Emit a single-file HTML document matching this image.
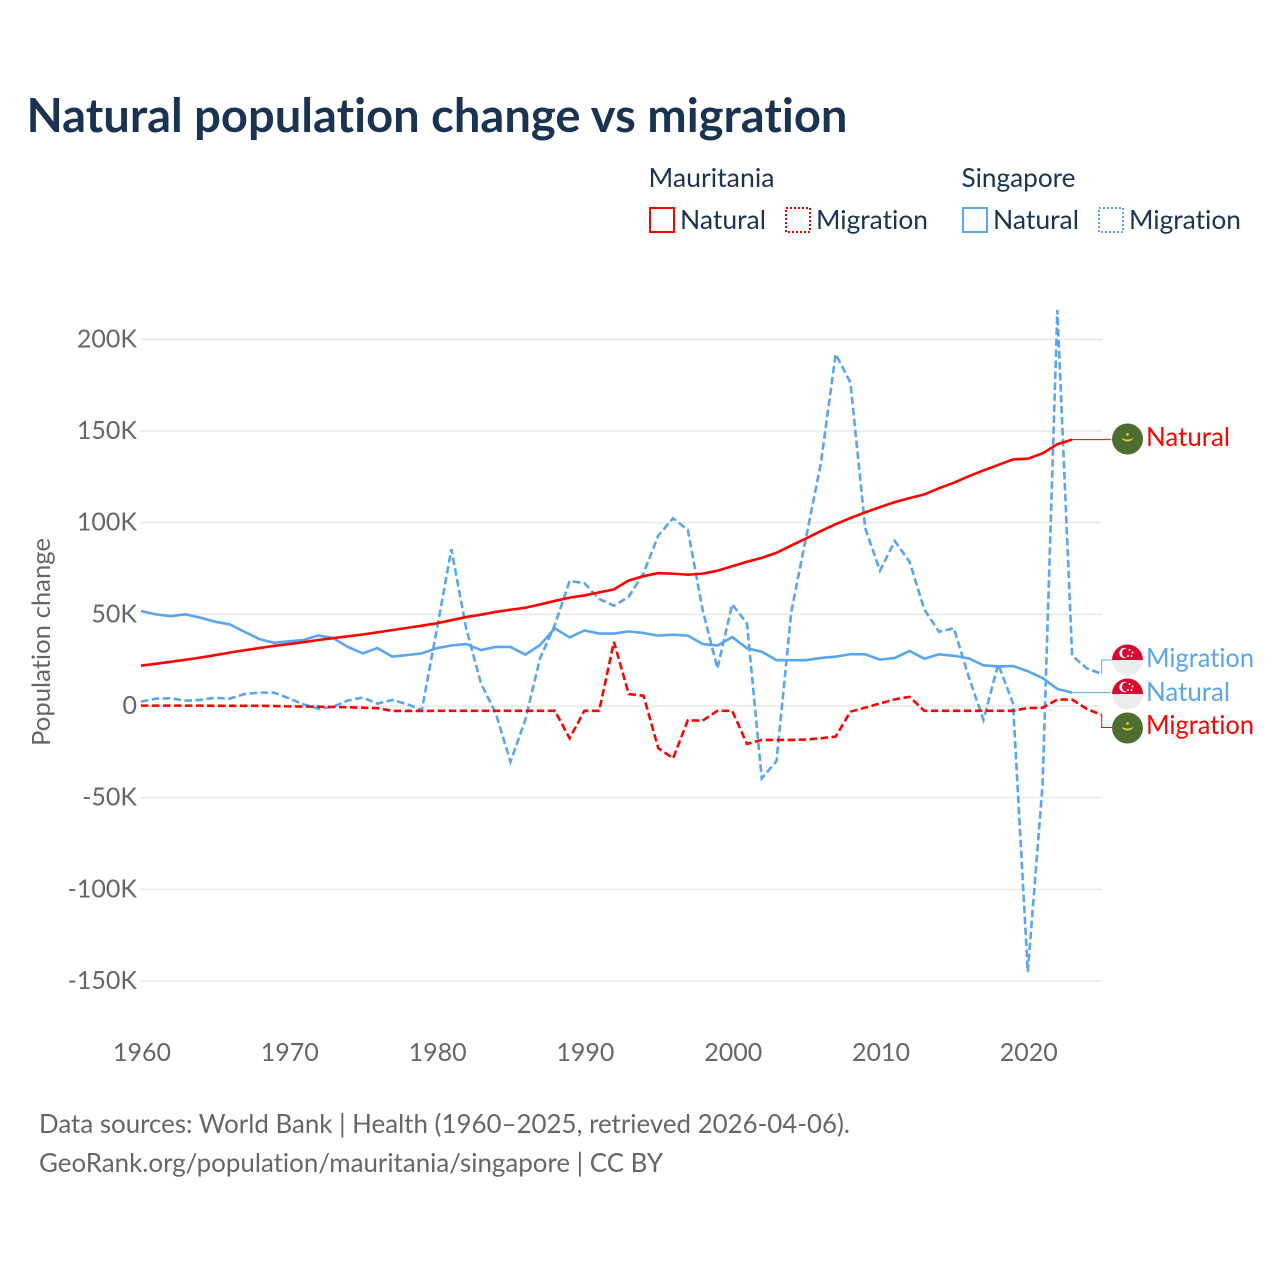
<!DOCTYPE html>
<html lang="en">
<head>
<meta charset="utf-8">
<title>Natural population change vs migration</title>
<style>
html,body{margin:0;padding:0;background:#fff;width:1280px;height:1280px;overflow:hidden}
svg{display:block}
text{font-family:"Lato","Carlito","Liberation Sans",sans-serif;font-variant-ligatures:none;font-feature-settings:"liga" 0,"clig" 0}
</style>
</head>
<body>
<svg id="chart" width="1280" height="1280" viewBox="0 0 1280 1280" xmlns="http://www.w3.org/2000/svg">
  <rect width="1280" height="1280" fill="#fff"/>
  <text x="26.5" y="132" font-size="47" font-weight="700" fill="#1a3353" textLength="821" lengthAdjust="spacingAndGlyphs">Natural population change vs migration</text>

  <g font-size="26" fill="#1a3353">
    <text x="648.5" y="187" textLength="126" lengthAdjust="spacingAndGlyphs">Mauritania</text>
    <text x="961.5" y="187" textLength="114" lengthAdjust="spacingAndGlyphs">Singapore</text>
    <g>
      <rect x="650" y="208" width="24" height="24" fill="none" stroke="#ff0000" stroke-width="2"/>
      <text x="680" y="229" textLength="86" lengthAdjust="spacingAndGlyphs">Natural</text>
    </g>
    <g>
      <rect x="786" y="208" width="24" height="24" fill="none" stroke="#e00000" stroke-width="2" stroke-dasharray="2 2"/>
      <text x="816" y="229" textLength="112" lengthAdjust="spacingAndGlyphs">Migration</text>
    </g>
    <g>
      <rect x="963" y="208" width="24" height="24" fill="none" stroke="#5aa5ef" stroke-width="2"/>
      <text x="993" y="229" textLength="86" lengthAdjust="spacingAndGlyphs">Natural</text>
    </g>
    <g>
      <rect x="1099" y="208" width="24" height="24" fill="none" stroke="#5aa5ef" stroke-width="2" stroke-dasharray="2 2"/>
      <text x="1129" y="229" textLength="112" lengthAdjust="spacingAndGlyphs">Migration</text>
    </g>
  </g>

  <g id="grid"></g>
  <g id="yticks"></g>
  <g id="xticks"></g>
  <text transform="translate(50,642) rotate(-90)" text-anchor="middle" font-size="25" fill="#666" textLength="208" lengthAdjust="spacingAndGlyphs">Population change</text>
  <g id="leaders"></g>
  <g id="series"></g>

  <g font-size="26">
    <g>
      <g transform="translate(1127.5,439)">
        <circle r="15.5" fill="#4e6e2f"/><path d="M-6 -1.5 A6.5 6.5 0 0 0 6 -1.5 A7.5 5 0 0 1 -6 -1.5Z" fill="#e8c83c"/><circle cy="-4.5" r="1.4" fill="#e8c83c"/>
      </g>
      <text x="1146" y="446" fill="#ff0000" textLength="84" lengthAdjust="spacingAndGlyphs">Natural</text>
    </g>
    <g>
      <g transform="translate(1127.5,660)">
        <circle r="15.5" fill="#ececec"/><path d="M-15.5 0 A15.5 15.5 0 0 1 15.5 0Z" fill="#d9082f"/><circle cx="-3" cy="-7" r="5.2" fill="#fff"/><circle cx="-1" cy="-7" r="4.6" fill="#d9082f"/><circle cx="2" cy="-10" r="1" fill="#fff"/><circle cx="5" cy="-7.5" r="1" fill="#fff"/><circle cx="4" cy="-4" r="1" fill="#fff"/><circle cx="0.5" cy="-4" r="1" fill="#fff"/>
      </g>
      <text x="1146" y="667" fill="#5aa5ef" textLength="108" lengthAdjust="spacingAndGlyphs">Migration</text>
    </g>
    <g>
      <g transform="translate(1127.5,694)">
        <circle r="15.5" fill="#ececec"/><path d="M-15.5 0 A15.5 15.5 0 0 1 15.5 0Z" fill="#d9082f"/><circle cx="-3" cy="-7" r="5.2" fill="#fff"/><circle cx="-1" cy="-7" r="4.6" fill="#d9082f"/><circle cx="2" cy="-10" r="1" fill="#fff"/><circle cx="5" cy="-7.5" r="1" fill="#fff"/><circle cx="4" cy="-4" r="1" fill="#fff"/><circle cx="0.5" cy="-4" r="1" fill="#fff"/>
      </g>
      <text x="1146" y="701" fill="#5aa5ef" textLength="84" lengthAdjust="spacingAndGlyphs">Natural</text>
    </g>
    <g>
      <g transform="translate(1127.5,728)">
        <circle r="15.5" fill="#4e6e2f"/><path d="M-6 -1.5 A6.5 6.5 0 0 0 6 -1.5 A7.5 5 0 0 1 -6 -1.5Z" fill="#e8c83c"/><circle cy="-4.5" r="1.4" fill="#e8c83c"/>
      </g>
      <text x="1146" y="734" fill="#ff0000" textLength="108" lengthAdjust="spacingAndGlyphs">Migration</text>
    </g>
  </g>

  <g font-size="26" fill="#666">
    <text x="39" y="1133" textLength="811" lengthAdjust="spacingAndGlyphs">Data sources: World Bank | Health (1960–2025, retrieved 2026-04-06).</text>
    <text x="39" y="1172" textLength="624" lengthAdjust="spacingAndGlyphs">GeoRank.org/population/mauritania/singapore | CC BY</text>
  </g>
</svg>
<script>
const startYear = 1960;
const yTickValues = [200, 150, 100, 50, 0, -50, -100, -150];
const xTickYears = [1960, 1970, 1980, 1990, 2000, 2010, 2020];
const mauritaniaNatural = [22,23,24.1,25.2,26.4,27.7,29.1,30.4,31.6,32.8,33.8,34.8,36,37,38,39,40.2,41.4,42.6,43.8,45.1,46.8,48.5,49.8,51.3,52.5,53.6,55.4,57.3,59.1,60.3,62,63.6,68.5,70.8,72.5,72.2,71.6,72.2,73.8,76.2,78.7,80.8,83.6,87.6,91.4,95.4,99.2,102.5,105.6,108.5,111.2,113.4,115.4,118.8,121.8,125.3,128.5,131.5,134.5,134.9,137.8,142.8,145.3];
const mauritaniaMigration = [0.2,0.2,0.2,0.2,0.2,0.1,0.1,0.1,0.1,0,-0.2,-0.3,-0.4,-0.5,-0.7,-0.9,-1.2,-2.7,-2.7,-2.7,-2.6,-2.6,-2.6,-2.6,-2.6,-2.6,-2.6,-2.6,-2.6,-17.6,-2.6,-2.6,35,6.5,5.6,-23,-28.5,-7.8,-8,-2.6,-2.6,-20.7,-18.5,-18.5,-18.5,-18.3,-17.6,-16.7,-3.1,-0.9,1.4,3.6,5,-2.6,-2.6,-2.6,-2.6,-2.6,-2.6,-2.6,-1.1,-1,3.5,3.5,-1.6,-4.9];
const singaporeNatural = [51.8,50,49,50,48.2,46,44.5,40.5,36.5,34.5,35.3,36,38.5,37,32.2,28.7,31.6,26.9,27.8,28.7,31.5,33,33.8,30.5,32.2,32.2,28,33.3,42.4,37.4,41.2,39.5,39.5,40.7,39.8,38.4,38.9,38.4,33.8,33,37.6,31.5,29.6,25,25,25,26.2,26.9,28.3,28.2,25.3,26.2,30,25.8,28.2,27.4,26,22.2,21.6,21.8,19,15.2,9.3,7.3];
const singaporeMigration = [2.4,4,4.2,2.9,3.3,4.5,4,6.5,7.3,7.3,4.2,0.9,-1.5,-0.4,3,4.6,1.3,3.3,1,-2.2,41,85.5,42.4,12.4,-3.9,-30.4,-7.6,26,44.2,68.2,67,58.4,54.7,59.6,72.4,93,102.4,96,52.4,20.5,55.5,45,-39.5,-30,51.5,92,132.3,192,176.4,97,73.8,90,78.7,52.7,40.5,42.4,16,-7.6,22.8,1.4,-145,-43,216,27.5,20.5,17.5];

const SVG_NS = 'http://www.w3.org/2000/svg';
const xScale = year => 141 + (year - 1960) * 14.78;
const yScale = value => 706 - value * 1.8333;
const tickLabel = value => value === 0 ? '0' : value + 'K';

const gridGroup = document.getElementById('grid');
const yTickGroup = document.getElementById('yticks');
const xTickGroup = document.getElementById('xticks');
const seriesGroup = document.getElementById('series');
const leaderGroup = document.getElementById('leaders');

yTickValues.forEach(value => {
  const line = document.createElementNS(SVG_NS, 'line');
  
  
  line.setAttribute('x1', 140);
  line.setAttribute('x2', 1102);
  line.setAttribute('y1', yScale(value));
  line.setAttribute('y2', yScale(value));
  line.setAttribute('stroke', '#e9e9e9');
  line.setAttribute('stroke-width', 1.5);
  gridGroup.appendChild(line);

  const label = document.createElementNS(SVG_NS, 'text');
  
  
  label.setAttribute('x', 137);
  label.setAttribute('y', yScale(value) + 8);
  label.setAttribute('text-anchor', 'end');
  label.setAttribute('font-size', 25);
  label.setAttribute('fill', '#666');
  label.textContent = tickLabel(value);
  yTickGroup.appendChild(label);
});

xTickYears.forEach(year => {
  const label = document.createElementNS(SVG_NS, 'text');
  
  
  label.setAttribute('x', xScale(year) + 1);
  label.setAttribute('y', 1061);
  label.setAttribute('text-anchor', 'middle');
  label.setAttribute('font-size', 25);
  label.setAttribute('fill', '#666');
  label.textContent = year;
  xTickGroup.appendChild(label);
});

function linePath(values) {
  return values.map((v, i) => (i ? 'L' : 'M') + xScale(startYear + i).toFixed(2) + ' ' + yScale(v).toFixed(2)).join('');
}

const lastX = values => xScale(startYear + values.length - 1);
const lastY = values => yScale(values[values.length - 1]);

function leaderPath(values, flagY) {
  const x = lastX(values), y = lastY(values);
  if (values.length < 66) return 'M' + x + ' ' + y + 'L1111 ' + y;
  return 'M' + x + ' ' + y + 'L' + x + ' ' + flagY + 'L1112 ' + flagY;
}

const leaderMN = document.createElementNS(SVG_NS, 'path');


leaderMN.setAttribute('d', leaderPath(mauritaniaNatural, 439));
leaderMN.setAttribute('stroke', '#ff0000');
leaderMN.setAttribute('fill', 'none');
leaderGroup.appendChild(leaderMN);

const leaderMM = document.createElementNS(SVG_NS, 'path');


leaderMM.setAttribute('d', leaderPath(mauritaniaMigration, 727.5));
leaderMM.setAttribute('stroke', '#ff0000');
leaderMM.setAttribute('fill', 'none');
leaderGroup.appendChild(leaderMM);

const leaderSN = document.createElementNS(SVG_NS, 'path');


leaderSN.setAttribute('d', leaderPath(singaporeNatural, 693));
leaderSN.setAttribute('stroke', '#5aa5ef');
leaderSN.setAttribute('fill', 'none');
leaderGroup.appendChild(leaderSN);

const leaderSM = document.createElementNS(SVG_NS, 'path');


leaderSM.setAttribute('d', leaderPath(singaporeMigration, 660));
leaderSM.setAttribute('stroke', '#5aa5ef');
leaderSM.setAttribute('fill', 'none');
leaderGroup.appendChild(leaderSM);

const lineSM = document.createElementNS(SVG_NS, 'path');


lineSM.setAttribute('d', linePath(singaporeMigration));
lineSM.setAttribute('stroke', '#5aa5ef');
lineSM.setAttribute('stroke-width', 2.6);
lineSM.setAttribute('stroke-dasharray', '7.5 3.5');
lineSM.setAttribute('fill', 'none');
seriesGroup.appendChild(lineSM);

const lineSN = document.createElementNS(SVG_NS, 'path');


lineSN.setAttribute('d', linePath(singaporeNatural));
lineSN.setAttribute('stroke', '#5aa5ef');
lineSN.setAttribute('stroke-width', 2.6);
lineSN.setAttribute('fill', 'none');
seriesGroup.appendChild(lineSN);

const lineMM = document.createElementNS(SVG_NS, 'path');


lineMM.setAttribute('d', linePath(mauritaniaMigration));
lineMM.setAttribute('stroke', '#ff0000');
lineMM.setAttribute('stroke-width', 2.6);
lineMM.setAttribute('stroke-dasharray', '7.5 3.5');
lineMM.setAttribute('fill', 'none');
seriesGroup.appendChild(lineMM);

const lineMN = document.createElementNS(SVG_NS, 'path');


lineMN.setAttribute('d', linePath(mauritaniaNatural));
lineMN.setAttribute('stroke', '#ff0000');
lineMN.setAttribute('stroke-width', 2.6);
lineMN.setAttribute('fill', 'none');
seriesGroup.appendChild(lineMN);
</script>
</body>
</html>
